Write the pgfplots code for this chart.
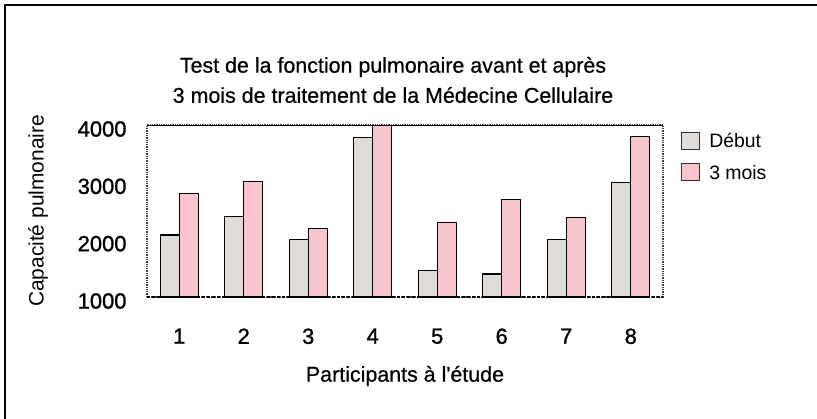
\documentclass[border=0pt]{standalone}
\usepackage{fontspec}
\setmainfont{Liberation Sans}
\newfontfamily\tickfont[FakeBold=1.2]{Liberation Sans}
\newfontfamily\titlefont[FakeBold=0.6]{Liberation Sans}
\usepackage{pgfplots}
\pgfplotsset{compat=1.18}

\definecolor{debut}{RGB}{222,219,216}
\definecolor{troismois}{RGB}{248,196,206}

\begin{document}
\begin{tikzpicture}
% axis lower left corner sits at the origin; image pixel (X,Y) -> (X-147, 297-Y) bp
\begin{axis}[
    scale only axis,
    width=516bp,
    height=172bp,
    ybar=0pt,
    bar width=19bp,
    xmin=0.5, xmax=8.5,
    ymin=1000, ymax=4000,
    xtick={1,2,3,4,5,6,7,8},
    ytick={1000,2000,3000,4000},
    major tick length=0pt,
    /pgf/number format/assume math mode=true,
    /pgf/number format/set thousands separator={},
    tick label style={font=\tickfont\fontsize{22}{24}\selectfont},
    xticklabel style={anchor=north, yshift=-28bp},
    yticklabel style={anchor=east, xshift=-17bp, yshift=-4bp},
    axis line style={black!75, densely dotted, line width=1.3bp},
    legend style={at={(1.035,0.965)}, anchor=north west, draw=none, fill=none,
        inner sep=0pt, font=\fontsize{19.5}{22}\selectfont, row sep=12bp, column sep=7bp},
    legend cell align=left,
    legend image code/.code={\draw[#1, draw=black!80, line width=1bp] (0bp,-8bp) rectangle (18bp,9bp);},
    every axis plot/.append style={draw=black, line width=1.3bp},
]
\addplot[fill=debut] coordinates {(1,2080) (2,2400) (3,2000) (4,3780) (5,1460) (6,1400) (7,2000) (8,3000)};
\addplot[fill=troismois] coordinates {(1,2800) (2,3010) (3,2200) (4,4000) (5,2300) (6,2700) (7,2390) (8,3800)};
\legend{Début, 3 mois}
\draw[black, line width=1.5bp] (rel axis cs:0,1) -- (rel axis cs:1,1);
\draw[black, line width=1.3bp, dash pattern=on 3bp off 2bp] (rel axis cs:0,0) -- (rel axis cs:1,0);
\end{axis}

% titles and axis titles
\node[font=\titlefont\fontsize{21.5}{24}\selectfont] at (246bp,230bp) {Test de la fonction pulmonaire avant et après};
\node[font=\titlefont\fontsize{21.5}{24}\selectfont] at (246bp,202bp) {3 mois de traitement de la Médecine Cellulaire};
\node[font=\titlefont\fontsize{21.5}{24}\selectfont] at (258bp,-79bp) {Participants à l'étude};
\node[font=\fontsize{21}{24}\selectfont, rotate=90] at (-109bp,86bp) {Capacité pulmonaire};

% outer frame, top and left only
\draw[black, line width=2.4bp] (-142bp,-122bp) -- (-142bp,292bp) -- (670bp,292bp);

\pgfresetboundingbox
\useasboundingbox (-147bp,-122bp) rectangle (670bp,297bp);
\end{tikzpicture}
\end{document}
